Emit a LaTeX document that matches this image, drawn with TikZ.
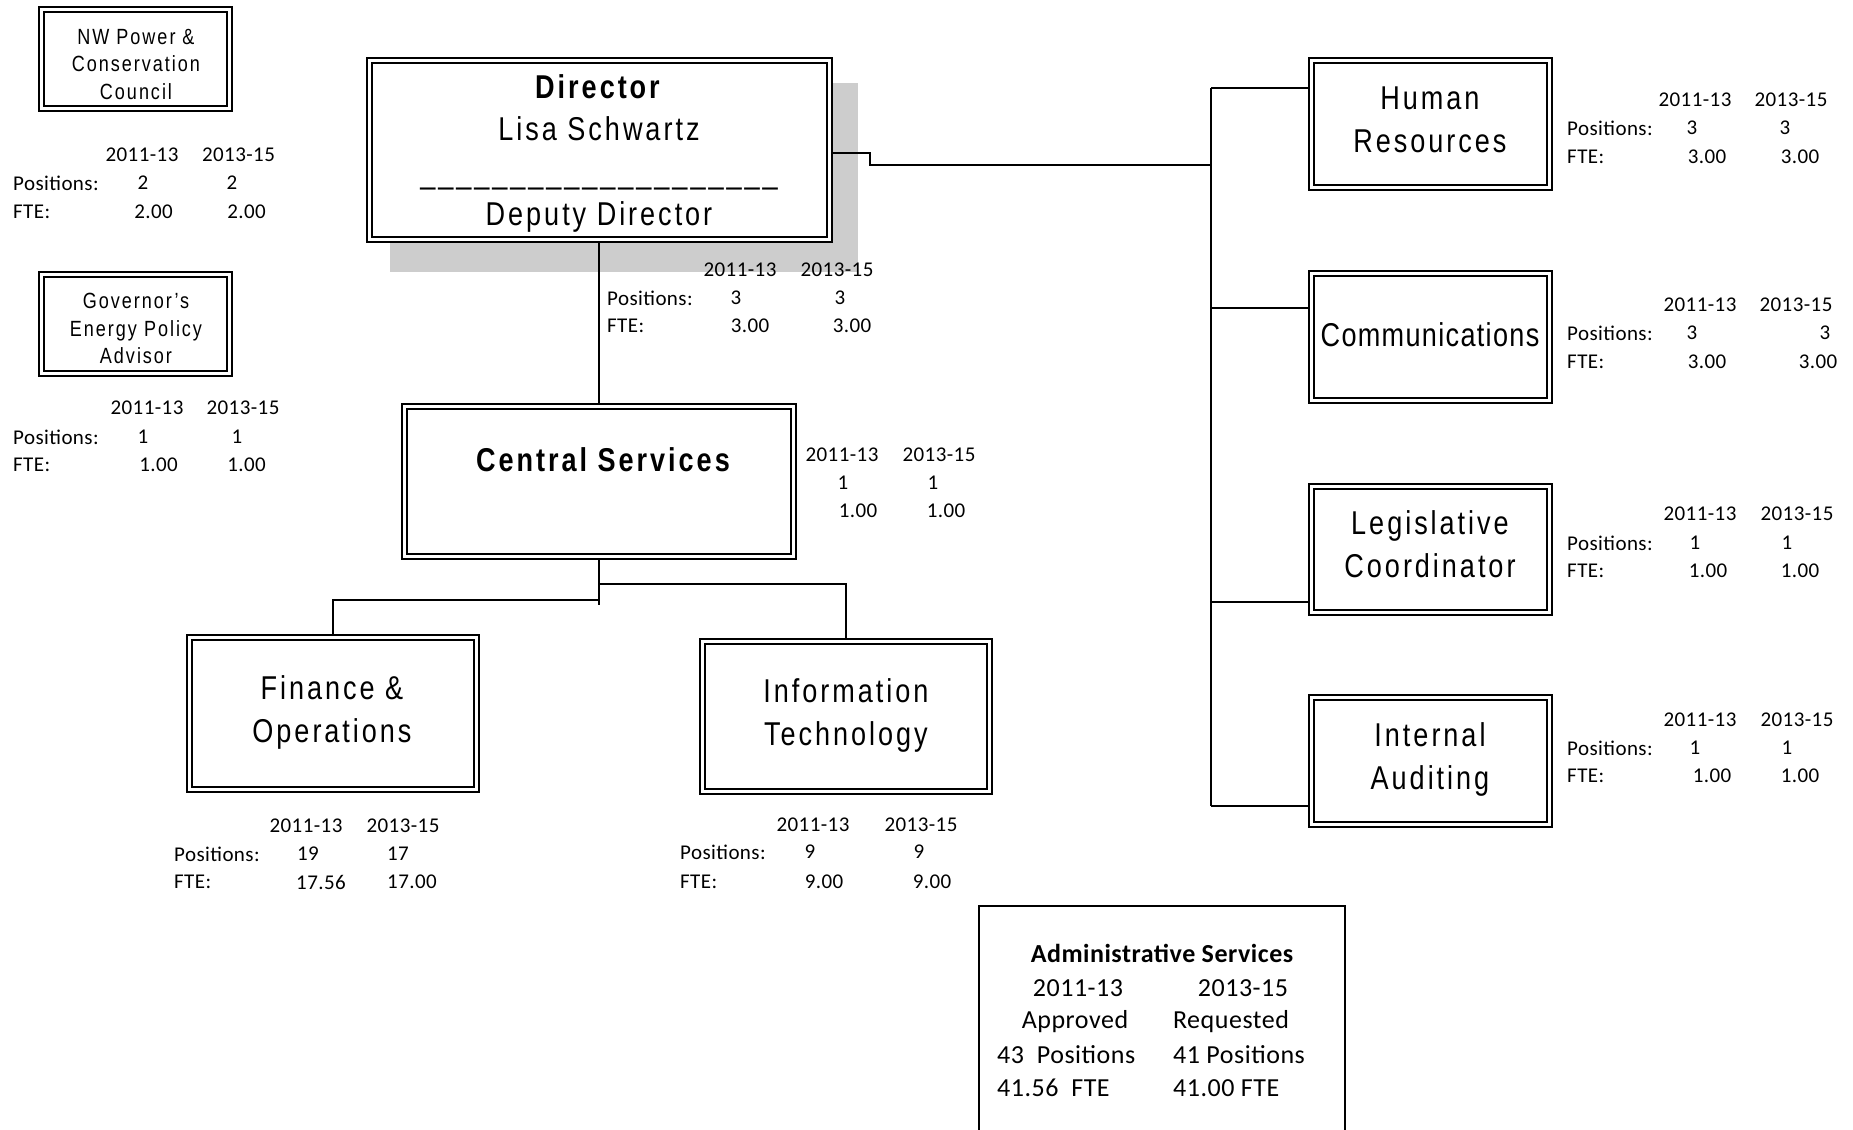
\documentclass[tikz,border=0pt]{standalone}
\usepackage{fontspec}
\setmainfont{Liberation Sans}
\newfontfamily\boxfont[FakeStretch=0.82,LetterSpace=9]{Liberation Sans}
\newfontfamily\commfont[FakeStretch=0.82,LetterSpace=4]{Liberation Sans}
\newfontfamily\statfont[LetterSpace=2]{Carlito}
\usetikzlibrary{backgrounds}
\definecolor{shadowgray}{RGB}{205,205,205}
\begin{document}
\begin{tikzpicture}[x=1pt,y=-1pt,
  dbox/.style={draw=black, line width=2pt, double=white, double distance=3pt, fill=white, inner sep=0pt},
  btxt/.style={inner sep=0pt, align=center, text=black},
  bigtxt/.style={btxt, font=\boxfont\fontsize{33}{42.5}\selectfont},
  smalltxt/.style={btxt, font=\boxfont\fontsize{22}{27.5}\selectfont},
  st/.style={font=\statfont\fontsize{21}{25}\selectfont, inner sep=0pt, text=black},
  stl/.style={st, anchor=west},
  adm/.style={font=\statfont\fontsize{26}{30}\selectfont, inner sep=0pt, text=black, anchor=base},
  adml/.style={adm, anchor=base west},
  conn/.style={draw=black, line width=2pt}]
\useasboundingbox (0,0) rectangle (1853,1130);

% ---------- boxes ----------
\node[dbox, minimum width=188pt, minimum height=99pt] (nw) at (135.5,59) {};
\node[dbox, minimum width=188pt, minimum height=99pt] (gov) at (135.5,324) {};
\node[dbox, minimum width=460pt, minimum height=179pt] (dir) at (599,150) {};
\node[dbox, minimum width=389pt, minimum height=150pt] (cs) at (599,481.5) {};
\node[dbox, minimum width=287pt, minimum height=152pt] (fin) at (333,713.5) {};
\node[dbox, minimum width=287pt, minimum height=150pt] (it) at (846,716.5) {};
\node[dbox, minimum width=238pt, minimum height=127pt] (hr) at (1430.5,124) {};
\node[dbox, minimum width=238pt, minimum height=127pt] (comm) at (1430.5,337) {};
\node[dbox, minimum width=238pt, minimum height=126pt] (leg) at (1430.5,549.5) {};
\node[dbox, minimum width=238pt, minimum height=127pt] (aud) at (1430.5,761) {};

% ---------- box texts ----------
\node[smalltxt] (nwt) at (136,64) {NW Power \&\\Conservation\\Council};
\node[smalltxt] (govt) at (136,328.5) {Governor’s\\Energy Policy\\Advisor};
\node[btxt, font=\boxfont\fontsize{33}{42.5}\selectfont] (dirt) at (599,153.5)
  {\textbf{Director}\\Lisa Schwartz\\\_\_\_\_\_\_\_\_\_\_\_\_\_\_\_\_\_\_\_\_\\Deputy Director};
\node[btxt, font=\boxfont\bfseries\fontsize{33}{42.5}\selectfont] (cst) at (603,460) {Central Services};
\node[bigtxt] (fint) at (332,712.5) {Finance \&\\Operations};
\node[bigtxt] (itt) at (846,715.5) {Information\\Technology};
\node[bigtxt] (hrt) at (1430,120) {Human\\Resources};
\node[btxt, font=\commfont\fontsize{33}{42.5}\selectfont] (commt) at (1430,334.5) {Communications};
\node[bigtxt] (legt) at (1430,544) {Legislative\\Coordinator};
\node[bigtxt] (audt) at (1430,759.5) {Internal\\Auditing};

% ---------- connectors (behind boxes) ----------
\coordinate (bt) at (1211,88);
\coordinate (bd) at (1211,165);
\coordinate (bc) at (1211,308);
\coordinate (bl) at (1211,602);
\coordinate (bb) at (1211,806);
\coordinate (dk) at (870,165);
\coordinate (je) at (599,605);
\coordinate (jl) at (599,600);
\coordinate (jr) at (599,584);
\begin{scope}[on background layer]
  \fill[shadowgray] (390,83) rectangle (858,272);
  \draw[conn] (dir.south) -- (cs.north);
  \draw[conn] (dir.east |- 0,153) -| (dk) -- (bd);
  \draw[conn] (bt) -- (bb);
  \draw[conn] (bt) -- (bt -| hr.west);
  \draw[conn] (bc) -- (bc -| comm.west);
  \draw[conn] (bl) -- (bl -| leg.west);
  \draw[conn] (bb) -- (bb -| aud.west);
  \draw[conn] (cs.south) -- (je);
  \draw[conn] (jl) -| (fin.north);
  \draw[conn] (jr) -| (it.north);
\end{scope}

% ---------- statistics ----------
% NW Power
\node[st] (nwh1) at (142,155) {2011-13};
\node[st] (nwh2) at (238.5,155) {2013-15};
\node[stl] (nwp) at (13,183) {Positions:};
\node[st] (nwp1) at (143,183) {2};
\node[st] (nwp2) at (232,183) {2};
\node[stl] (nwf) at (13,212) {FTE:};
\node[st] (nwf1) at (153.5,212) {2.00};
\node[st] (nwf2) at (246.5,212) {2.00};
% Governor
\node[st] (gvh1) at (147,408) {2011-13};
\node[st] (gvh2) at (243,408) {2013-15};
\node[stl] (gvp) at (13,437) {Positions:};
\node[st] (gvp1) at (143,437) {1};
\node[st] (gvp2) at (237,437) {1};
\node[stl] (gvf) at (13,465) {FTE:};
\node[st] (gvf1) at (158.5,465) {1.00};
\node[st] (gvf2) at (246.5,465) {1.00};
% Director
\node[st] (dih1) at (740,270) {2011-13};
\node[st] (dih2) at (837,270) {2013-15};
\node[stl] (dip) at (607,298) {Positions:};
\node[st] (dip1) at (736,298) {3};
\node[st] (dip2) at (840,298) {3};
\node[stl] (dif) at (607,326) {FTE:};
\node[st] (dif1) at (750,326) {3.00};
\node[st] (dif2) at (852,326) {3.00};
% Central Services
\node[st] (csh1) at (842,455) {2011-13};
\node[st] (csh2) at (939,455) {2013-15};
\node[st] (csp1) at (843,483) {1};
\node[st] (csp2) at (933,483) {1};
\node[st] (csf1) at (858,511) {1.00};
\node[st] (csf2) at (946,511) {1.00};
% Finance
\node[st] (fih1) at (306,826) {2011-13};
\node[st] (fih2) at (403,826) {2013-15};
\node[stl] (fip) at (174,854) {Positions:};
\node[st] (fip1) at (308,854) {19};
\node[st] (fip2) at (398,854) {17};
\node[stl] (fif) at (174,882) {FTE:};
\node[st] (fif1) at (321,882) {17.56};
\node[st] (fif2) at (412,882) {17.00};
% IT
\node[st] (ith1) at (813,825) {2011-13};
\node[st] (ith2) at (921,825) {2013-15};
\node[stl] (itp) at (680,852) {Positions:};
\node[st] (itp1) at (810,852) {9};
\node[st] (itp2) at (919,852) {9};
\node[stl] (itf) at (680,882) {FTE:};
\node[st] (itf1) at (824,882) {9.00};
\node[st] (itf2) at (932,882) {9.00};
% HR
\node[st] (hrh1) at (1695,100) {2011-13};
\node[st] (hrh2) at (1791,100) {2013-15};
\node[stl] (hrp) at (1567,128) {Positions:};
\node[st] (hrp1) at (1692,128) {3};
\node[st] (hrp2) at (1785,128) {3};
\node[stl] (hrf) at (1567,157) {FTE:};
\node[st] (hrf1) at (1707,157) {3.00};
\node[st] (hrf2) at (1800,157) {3.00};
% Communications
\node[st] (coh1) at (1700,305) {2011-13};
\node[st] (coh2) at (1796,305) {2013-15};
\node[stl] (cop) at (1567,333) {Positions:};
\node[st] (cop1) at (1692,333) {3};
\node[st] (cop2) at (1825,333) {3};
\node[stl] (cof) at (1567,362) {FTE:};
\node[st] (cof1) at (1707,362) {3.00};
\node[st] (cof2) at (1818,362) {3.00};
% Legislative
\node[st] (lgh1) at (1700,514) {2011-13};
\node[st] (lgh2) at (1797,514) {2013-15};
\node[stl] (lgp) at (1567,543) {Positions:};
\node[st] (lgp1) at (1695,543) {1};
\node[st] (lgp2) at (1787,543) {1};
\node[stl] (lgf) at (1567,571) {FTE:};
\node[st] (lgf1) at (1708,571) {1.00};
\node[st] (lgf2) at (1800,571) {1.00};
% Internal Auditing
\node[st] (auh1) at (1700,720) {2011-13};
\node[st] (auh2) at (1797,720) {2013-15};
\node[stl] (aup) at (1567,748) {Positions:};
\node[st] (aup1) at (1695,748) {1};
\node[st] (aup2) at (1787,748) {1};
\node[stl] (auf) at (1567,776) {FTE:};
\node[st] (auf1) at (1712,776) {1.00};
\node[st] (auf2) at (1800,776) {1.00};

% ---------- Administrative Services ----------
\coordinate (abl) at (979,1140);
\coordinate (abr) at (1345,1140);
\draw[line width=2pt] (abl) |- (abr |- 0,906) -- (abr);
\node[adm, font=\statfont\bfseries\fontsize{26}{30}\selectfont] (adt) at (1162,962) {Administrative Services};
\node[adm] (ad1) at (1078,996) {2011-13};
\node[adm] (ad2) at (1243,996) {2013-15};
\node[adm] (ad3) at (1075,1028) {Approved};
\node[adm] (ad4) at (1231,1028) {Requested};
\node[adml] (ad5) at (997,1063) {43\ \ Positions};
\node[adml] (ad6) at (1173,1063) {41 Positions};
\node[adml] (ad7) at (997,1096) {41.56\ \ FTE};
\node[adml] (ad8) at (1173,1096) {41.00 FTE};
\end{tikzpicture}
\end{document}
